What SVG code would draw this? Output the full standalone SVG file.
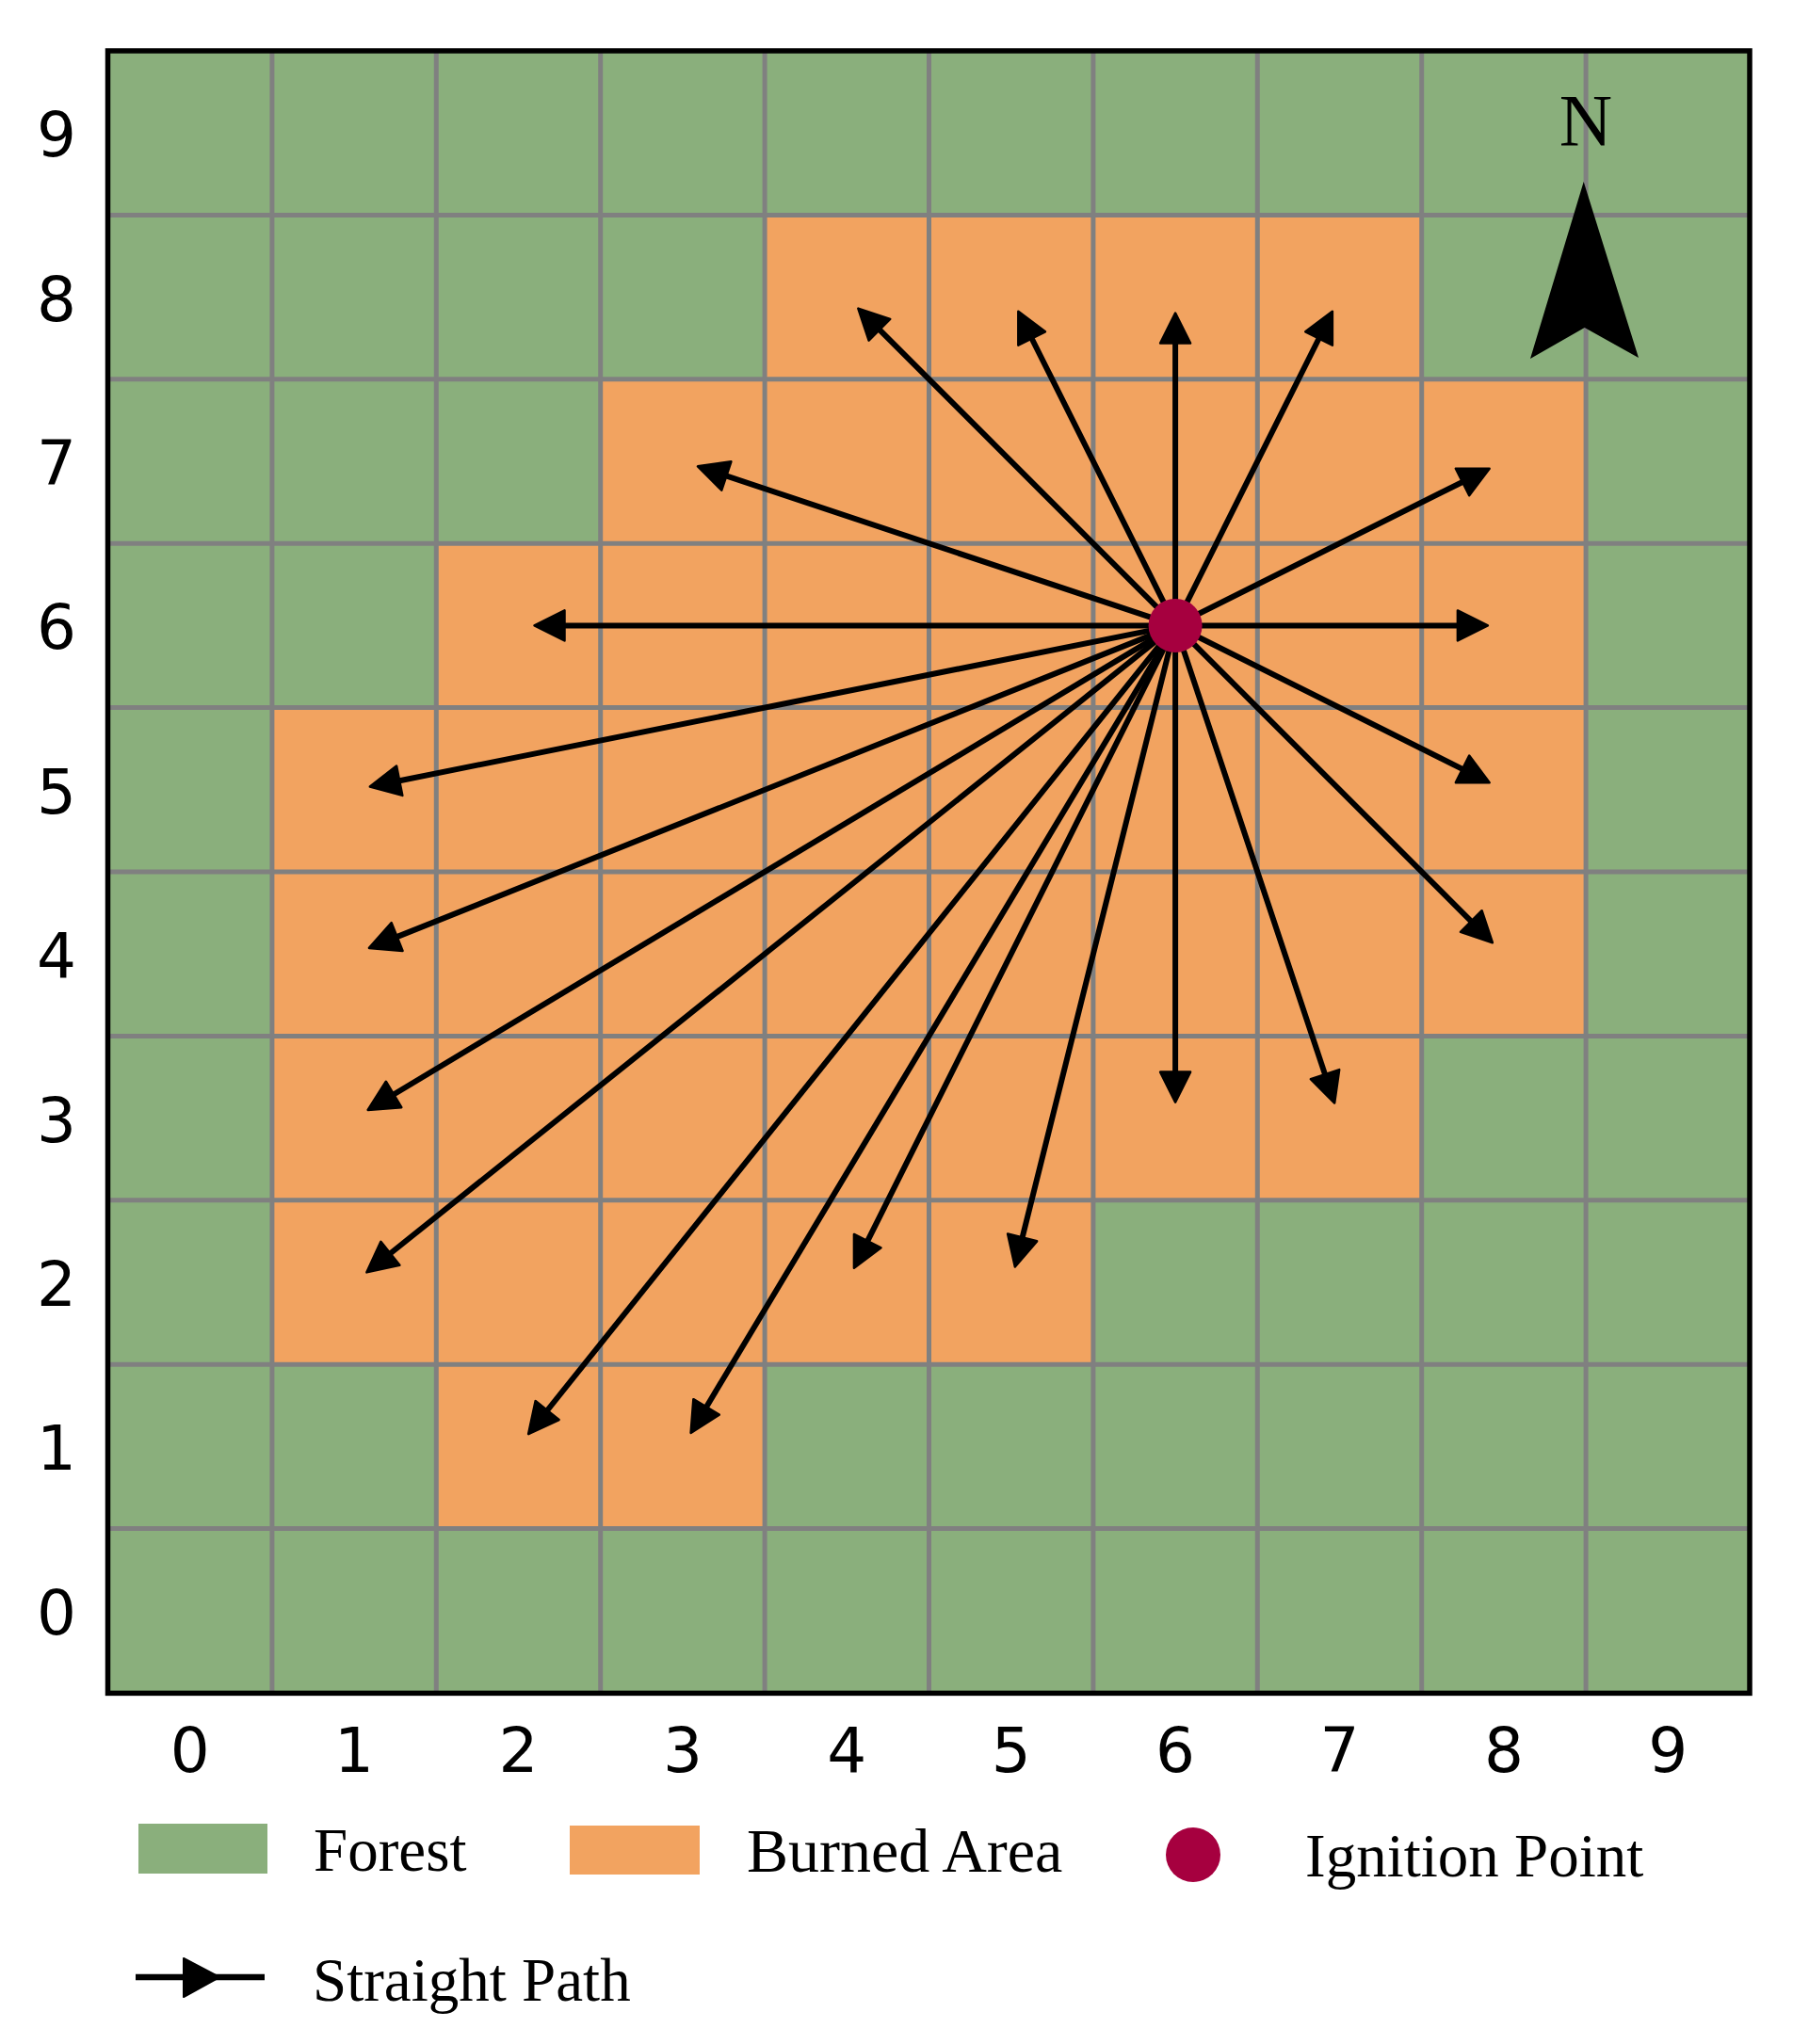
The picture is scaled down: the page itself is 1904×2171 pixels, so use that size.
<svg xmlns="http://www.w3.org/2000/svg" width="1904" height="2171" viewBox="0 0 1904 2171">
<style>
.forest{fill:#8AAF7C}
.burn{fill:#F2A360}
.grid line{stroke:#808080;stroke-width:5}
.tick{font-family:"DejaVu Sans",sans-serif;font-size:66px;fill:#000;text-anchor:middle}
.leg{font-family:"Liberation Serif","Times New Roman",serif;font-size:65px;fill:#000}
.arrows line{stroke:#000;stroke-width:6;marker-end:url(#ah)}
.ign{fill:#A6003F}
</style>
<defs>
<marker id="ah" markerUnits="userSpaceOnUse" markerWidth="40" markerHeight="40" viewBox="-2 -19 40 38" refX="6" refY="0" orient="auto" overflow="visible">
<path d="M1,-16 L33,0 L1,16 Z" fill="#000" stroke="#000" stroke-width="2.5" stroke-linejoin="round"/>
</marker>
</defs>
<rect width="1904" height="2171" fill="#fff"/>
<g id="map">
<rect class="forest" x="114.5" y="54" width="1743.5" height="1744.4"/>
<g id="burned">
<rect class="burn" x="812.1" y="228.4" width="697.6" height="174.4"/>
<rect class="burn" x="637.7" y="402.8" width="1046.4" height="174.4"/>
<rect class="burn" x="463.3" y="577.2" width="1220.8" height="174.4"/>
<rect class="burn" x="288.9" y="751.6" width="1395.2" height="174.4"/>
<rect class="burn" x="288.9" y="926" width="1395.2" height="174.4"/>
<rect class="burn" x="288.9" y="1100.4" width="1220.8" height="174.4"/>
<rect class="burn" x="288.9" y="1274.8" width="872" height="174.4"/>
<rect class="burn" x="463.3" y="1449.2" width="348.8" height="174.4"/>
</g>
<g class="grid">
<line x1="288.9" y1="54" x2="288.9" y2="1798.4"/>
<line x1="463.3" y1="54" x2="463.3" y2="1798.4"/>
<line x1="637.7" y1="54" x2="637.7" y2="1798.4"/>
<line x1="812.1" y1="54" x2="812.1" y2="1798.4"/>
<line x1="986.5" y1="54" x2="986.5" y2="1798.4"/>
<line x1="1160.9" y1="54" x2="1160.9" y2="1798.4"/>
<line x1="1335.3" y1="54" x2="1335.3" y2="1798.4"/>
<line x1="1509.7" y1="54" x2="1509.7" y2="1798.4"/>
<line x1="1684.1" y1="54" x2="1684.1" y2="1798.4"/>
<line x1="114.5" y1="228.4" x2="1858" y2="228.4"/>
<line x1="114.5" y1="402.8" x2="1858" y2="402.8"/>
<line x1="114.5" y1="577.2" x2="1858" y2="577.2"/>
<line x1="114.5" y1="751.6" x2="1858" y2="751.6"/>
<line x1="114.5" y1="926" x2="1858" y2="926"/>
<line x1="114.5" y1="1100.4" x2="1858" y2="1100.4"/>
<line x1="114.5" y1="1274.8" x2="1858" y2="1274.8"/>
<line x1="114.5" y1="1449.2" x2="1858" y2="1449.2"/>
<line x1="114.5" y1="1623.6" x2="1858" y2="1623.6"/>
</g>
<rect x="114.5" y="54" width="1743.5" height="1744.4" fill="none" stroke="#000" stroke-width="5.5"/>
</g>
<g id="north">
<text x="1684" y="154" class="leg" style="font-size:78px" text-anchor="middle">N</text>
<polygon points="1681.7,193 1740,380 1682.7,348 1625,381" fill="#000"/>
</g>
<g id="connectors" class="arrows">
<line x1="1248.1" y1="664.4" x2="930.4" y2="346.7"/>
<line x1="1248.1" y1="664.4" x2="1093.4" y2="355.0"/>
<line x1="1248.1" y1="664.4" x2="1248.1" y2="359.6"/>
<line x1="1248.1" y1="664.4" x2="1402.8" y2="355.0"/>
<line x1="1248.1" y1="664.4" x2="766.6" y2="503.9"/>
<line x1="1248.1" y1="664.4" x2="1557.5" y2="509.7"/>
<line x1="1248.1" y1="664.4" x2="594.5" y2="664.4"/>
<line x1="1248.1" y1="664.4" x2="1552.9" y2="664.4"/>
<line x1="1248.1" y1="664.4" x2="419.3" y2="830.2"/>
<line x1="1248.1" y1="664.4" x2="1557.5" y2="819.1"/>
<line x1="1248.1" y1="664.4" x2="417.0" y2="996.9"/>
<line x1="1248.1" y1="664.4" x2="1565.8" y2="982.1"/>
<line x1="1248.1" y1="664.4" x2="413.8" y2="1165.0"/>
<line x1="1248.1" y1="664.4" x2="1248.1" y2="1143.6"/>
<line x1="1248.1" y1="664.4" x2="1408.6" y2="1145.9"/>
<line x1="1248.1" y1="664.4" x2="410.5" y2="1334.5"/>
<line x1="1248.1" y1="664.4" x2="919.0" y2="1322.6"/>
<line x1="1248.1" y1="664.4" x2="1084.4" y2="1319.3"/>
<line x1="1248.1" y1="664.4" x2="578.0" y2="1502.0"/>
<line x1="1248.1" y1="664.4" x2="747.5" y2="1498.7"/>
</g>
<g id="ignition">
<circle class="ign" cx="1248.1" cy="664.4" r="28.5"/>
</g>
<g id="yticks">
<text class="tick" x="60" y="166">9</text>
<text class="tick" x="60" y="340.6">8</text>
<text class="tick" x="60" y="515">7</text>
<text class="tick" x="60" y="689.4">6</text>
<text class="tick" x="60" y="863.8">5</text>
<text class="tick" x="60" y="1038.2">4</text>
<text class="tick" x="60" y="1212.6">3</text>
<text class="tick" x="60" y="1387">2</text>
<text class="tick" x="60" y="1561.4">1</text>
<text class="tick" x="60" y="1735.8">0</text>
</g>
<g id="xticks">
<text class="tick" x="201.7" y="1882">0</text>
<text class="tick" x="376.1" y="1882">1</text>
<text class="tick" x="550.5" y="1882">2</text>
<text class="tick" x="724.9" y="1882">3</text>
<text class="tick" x="899.3" y="1882">4</text>
<text class="tick" x="1073.7" y="1882">5</text>
<text class="tick" x="1248.1" y="1882">6</text>
<text class="tick" x="1422.5" y="1882">7</text>
<text class="tick" x="1596.9" y="1882">8</text>
<text class="tick" x="1771.3" y="1882">9</text>
</g>
<g id="legend">
<g id="leg-forest">
<rect class="forest" x="147" y="1937" width="137" height="53"/>
<text class="leg" x="333" y="1987">Forest</text>
</g>
<g id="leg-burned">
<rect class="burn" x="605" y="1939" width="138" height="52"/>
<text class="leg" x="793" y="1988" style="font-size:66px">Burned Area</text>
</g>
<g id="leg-ignition">
<circle class="ign" cx="1267" cy="1970" r="29"/>
<text class="leg" x="1386" y="1993">Ignition Point</text>
</g>
<g id="leg-path">
<line x1="144" y1="2100" x2="281" y2="2100" stroke="#000" stroke-width="6.5"/>
<polygon points="195,2080 233,2100 195,2121" fill="#000" stroke="#000" stroke-width="2" stroke-linejoin="round"/>
<text class="leg" x="332" y="2125">Straight Path</text>
</g>
</g>
</svg>
